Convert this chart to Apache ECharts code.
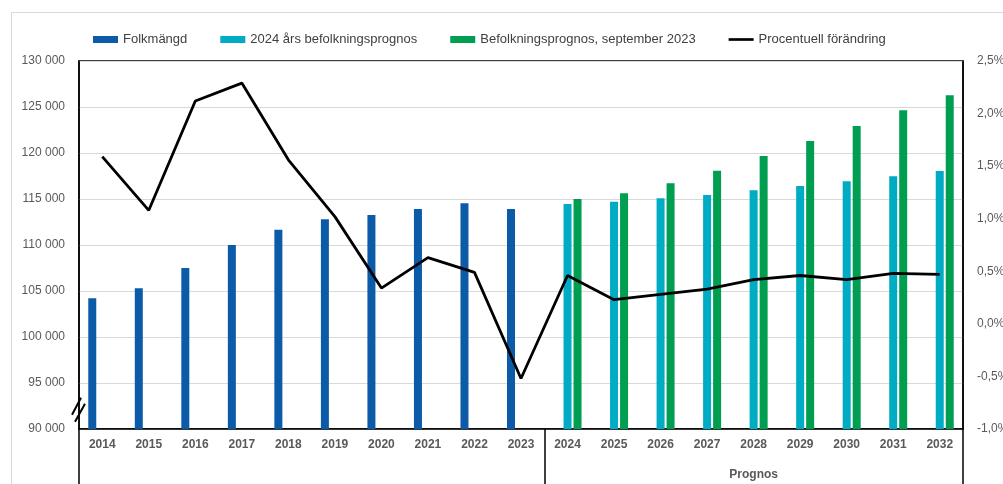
<!DOCTYPE html>
<html>
<head>
<meta charset="utf-8">
<style>
  html, body { margin: 0; padding: 0; background: #fff; }
  #chart { width: 1003px; height: 484px; }
</style>
<script src="https://cdn.jsdelivr.net/npm/echarts@6/dist/echarts.min.js"></script>
</head>
<body>
<div id="chart"></div>
<script>
const years = ['2014', '2015', '2016', '2017', '2018', '2019', '2020', '2021', '2022', '2023',
  '2024', '2025', '2026', '2027', '2028', '2029', '2030', '2031', '2032']

// Folkmängd (utfall)
const population = [104200, 105300, 107500, 110000, 111650, 112800, 113250, 113900, 114550, 113900,
  null, null, null, null, null, null, null, null, null]
// 2024 års befolkningsprognos
const forecast2024 = [null, null, null, null, null, null, null, null, null, null,
  114450, 114700, 115070, 115430, 115940, 116410, 116920, 117460, 118040]
// Befolkningsprognos, september 2023
const forecastSep2023 = [null, null, null, null, null, null, null, null, null, null,
  115000, 115620, 116700, 118080, 119670, 121300, 122930, 124640, 126270]
// Procentuell förändring (%)
const changePct = [1.59, 1.08, 2.12, 2.29, 1.56, 1.02, 0.34, 0.63, 0.49, -0.52,
  0.46, 0.23, 0.28, 0.33, 0.42, 0.46, 0.42, 0.48, 0.47]

const prognosStart = '2024'
const prognosLabelAt = '2028'

const chart = echarts.init(document.getElementById('chart'))

const font = 'Liberation Sans'
const labelGray = '#595959'

const option = {
  animation: false,
  textStyle: { fontFamily: font },
  legend: {
    left: 88,
    top: 28,
    itemWidth: 25,
    itemHeight: 7,
    itemGap: 33,
    textStyle: { fontSize: 13, color: '#404040', fontFamily: font },
    data: [
      { name: 'Folkmängd', icon: 'rect' },
      { name: '2024 års befolkningsprognos', icon: 'rect' },
      { name: 'Befolkningsprognos, september 2023', icon: 'rect' },
      { name: 'Procentuell förändring', icon: 'path://M0,0 L28,0 L28,3 L0,3 Z', itemStyle: { color: '#000' } }
    ]
  },
  grid: {
    left: 79,
    right: 40,
    top: 61,
    bottom: 55,
    outerBoundsMode: 'none',
    show: true,
    borderColor: '#000',
    borderWidth: 1.5
  },
  xAxis: [
    {
      type: 'category',
      data: years,
      axisLine: { onZero: false, lineStyle: { color: '#000', width: 1.5 } },
      axisTick: {
        show: true,
        length: 60,
        interval: (index, value) => index === 0 || value === prognosStart,
        lineStyle: { color: '#000', width: 1.5 }
      },
      axisLabel: {
        interval: 0,
        margin: 10,
        color: labelGray,
        fontWeight: 'bold',
        fontSize: 12
      }
    },
    {
      type: 'category',
      data: years,
      position: 'bottom',
      axisLine: { show: false, onZero: false },
      axisTick: { show: false },
      axisLabel: {
        interval: 0,
        margin: 40,
        color: labelGray,
        fontWeight: 'bold',
        fontSize: 12,
        formatter: v => (v === prognosLabelAt ? 'Prognos' : '')
      }
    }
  ],
  yAxis: [
    {
      type: 'value',
      min: 90000,
      max: 130000,
      interval: 5000,
      axisLine: { show: true, onZero: false, lineStyle: { color: '#000', width: 1.5 } },
      axisTick: { show: false },
      axisLabel: {
        margin: 14,
        color: labelGray,
        fontSize: 12,
        formatter: v => String(v).replace(/\B(?=(\d{3})+(?!\d))/g, ' ')
      },
      splitLine: { lineStyle: { color: '#d9d9d9', width: 1 } }
    },
    {
      type: 'value',
      min: -1,
      max: 2.5,
      interval: 0.5,
      axisLine: { show: true, onZero: false, lineStyle: { color: '#000', width: 1.5 } },
      axisTick: { show: false },
      axisLabel: {
        margin: 14,
        color: labelGray,
        fontSize: 12,
        formatter: v => v.toFixed(1).replace('.', ',') + '%'
      },
      splitLine: { show: false }
    }
  ],
  series: [
    {
      name: 'Folkmängd',
      type: 'bar',
      data: population,
      barWidth: 8,
      barGap: '25%',
      itemStyle: { color: '#0b5ba8' }
    },
    {
      name: '2024 års befolkningsprognos',
      type: 'bar',
      data: forecast2024,
      barWidth: 8,
      barGap: '25%',
      itemStyle: { color: '#00abc4' }
    },
    {
      name: 'Befolkningsprognos, september 2023',
      type: 'bar',
      data: forecastSep2023,
      barWidth: 8,
      barGap: '25%',
      itemStyle: { color: '#009e50' }
    },
    {
      name: 'Procentuell förändring',
      type: 'line',
      yAxisIndex: 1,
      data: changePct,
      symbol: 'none',
      lineStyle: { color: '#000', width: 2.8 },
      itemStyle: { color: '#000' },
      z: 5
    }
  ]
}

chart.setOption(option)

// Decorations: outer chart frame and axis-break mark on the left axis
const breakPt = chart.convertToPixel({ yAxisIndex: 0 }, 92100)
const axisX = chart.convertToPixel({ xAxisIndex: 0 }, years[0]) - chart.getModel().getComponent('xAxis', 0).axis.getBandWidth() / 2
chart.setOption({
  graphic: [
    {
      type: 'rect',
      silent: true,
      shape: { x: 11.5, y: 12.5, width: 1010, height: 490 },
      style: { fill: 'none', stroke: '#d9d9d9', lineWidth: 1 }
    },
    {
      type: 'line',
      silent: true,
      shape: { x1: axisX - 7, y1: breakPt + 5, x2: axisX + 2, y2: breakPt - 12 },
      style: { stroke: '#000', lineWidth: 2 }
    },
    {
      type: 'line',
      silent: true,
      shape: { x1: axisX - 4, y1: breakPt + 12, x2: axisX + 6, y2: breakPt - 6 },
      style: { stroke: '#000', lineWidth: 2 }
    }
  ]
})

window.addEventListener('resize', () => chart.resize())
</script>
</body>
</html>
